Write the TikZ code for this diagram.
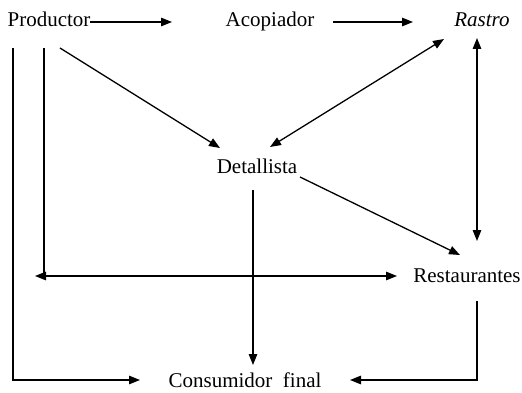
\documentclass[tikz,border=0pt]{standalone}
\usepackage{fontspec}
\setmainfont{Liberation Serif}
\usetikzlibrary{arrows.meta}
\begin{document}
\begin{tikzpicture}[x=1pt,y=-1pt,
  lbl/.style={inner sep=0pt,anchor=base,font=\fontsize{21}{25}\selectfont},
  con/.style={line width=1.3pt},
  arr/.style={con,-{Triangle[length=11pt,width=8.5pt]}},
  darr/.style={con,{Triangle[length=11pt,width=8.5pt]}-{Triangle[length=11pt,width=8.5pt]}}]
\useasboundingbox (0,0) rectangle (522,393);
\node[lbl] (prod) at (49,27) {Productor};
\node[lbl] (acop) at (270,27) {Acopiador};
\node[lbl,font=\fontsize{21}{25}\selectfont\itshape] (rastro) at (482,27) {Rastro};
\node[lbl] (det) at (257,173) {Detallista};
\node[lbl] (rest) at (467,282) {Restaurantes};
\node[lbl] (cons) at (245,387) {Consumidor\ \ final};
% connector end points
\coordinate (p1) at (90,22);   \coordinate (a1) at (172,22);
\coordinate (a2) at (333,22);  \coordinate (r1) at (413,22);
\coordinate (p2) at (60,48);   \coordinate (d1) at (220,148);
\coordinate (r2) at (444,39);  \coordinate (d2) at (270,147);
\coordinate (d3) at (300,177); \coordinate (s1) at (460,255);
\coordinate (r3) at (477,38);  \coordinate (s2) at (477,241);
\coordinate (d4) at (253,190); \coordinate (c1) at (253,365);
\coordinate (p3) at (44,48);   \coordinate (h1) at (44,276);
\coordinate (h0) at (35,276);  \coordinate (s3) at (397,276);
\coordinate (p4) at (13,48);   \coordinate (k1) at (13,380);  \coordinate (c2) at (140,380);
\coordinate (s4) at (477,301); \coordinate (k2) at (477,380); \coordinate (c3) at (350,380);
\draw[arr] (p1) -- (a1);
\draw[arr] (a2) -- (r1);
\draw[arr] (p2) -- (d1);
\draw[darr] (r2) -- (d2);
\draw[arr] (d3) -- (s1);
\draw[darr] (r3) -- (s2);
\draw[arr] (d4) -- (c1);
\draw[con] (p3) -- (h1);
\draw[darr] (h0) -- (s3);
\draw[arr] (p4) -- (k1) -- (c2);
\draw[arr] (s4) -- (k2) -- (c3);
\end{tikzpicture}
\end{document}
